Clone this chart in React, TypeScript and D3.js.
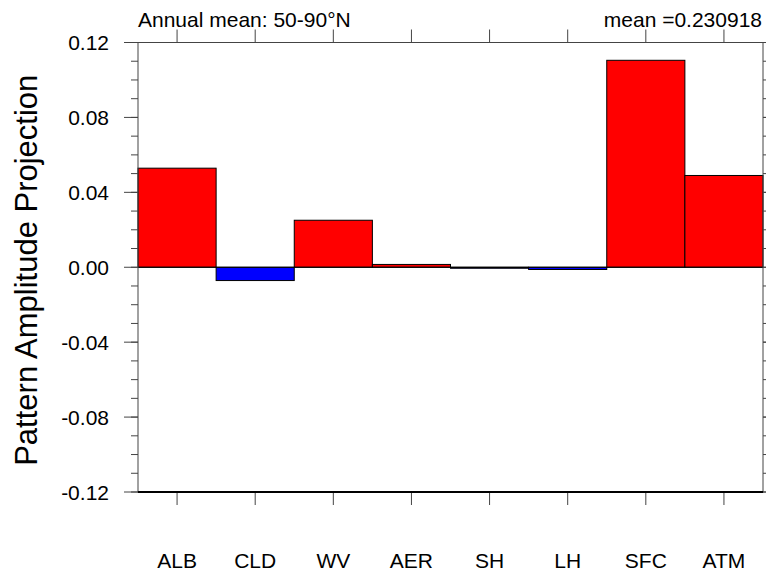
import React, { useEffect, useRef } from 'react';
import * as d3 from 'd3';

const categories = ['ALB', 'CLD', 'WV', 'AER', 'SH', 'LH', 'SFC', 'ATM'];
const values = [0.0529, -0.0071, 0.0251, 0.0015, -0.0005, -0.0012, 0.1105, 0.049];
const yTicks = [-0.12, -0.08, -0.04, 0, 0.04, 0.08, 0.12];
const titleLeft = 'Annual mean: 50-90°N';
const titleRight = 'mean =0.230918';
const yLabel = 'Pattern Amplitude Projection';

const W = 766;
const H = 575;
const margin = { top: 42.5, right: 3, bottom: 83, left: 138 };
const font = 'Liberation Sans, Arial, Helvetica, sans-serif';

export default function App() {
  const ref = useRef<SVGSVGElement>(null);

  useEffect(() => {
    const svg = d3.select(ref.current);
    svg.selectAll('*').remove();

    const x0 = margin.left, x1 = W - margin.right;
    const y0 = margin.top, y1 = H - margin.bottom;

    const x = d3.scaleBand().domain(categories).range([x0, x1]).padding(0);
    const y = d3.scaleLinear().domain([-0.12, 0.12]).range([y1, y0]);
    const minor = d3.range(-12, 13).map(i => i / 100);

    // bars
    svg.append('g')
      .selectAll('rect')
      .data(values)
      .join('rect')
      .attr('x', (d, i) => x(categories[i])!)
      .attr('width', x.bandwidth())
      .attr('y', d => y(Math.max(0, d)))
      .attr('height', d => Math.max(Math.abs(y(d) - y(0)), 1))
      .attr('fill', d => (d >= 0 ? '#ff0000' : '#0000ff'))
      .attr('stroke', '#000')
      .attr('stroke-width', 1);

    // zero line
    svg.append('line')
      .attr('x1', x0).attr('x2', x1)
      .attr('y1', y(0)).attr('y2', y(0))
      .attr('stroke', '#000').attr('stroke-width', 1);

    const tickCol = '#444';

    // left & right axis ticks
    [x0, x1].forEach((xx, side) => {
      const dir = side === 0 ? -1 : 1;
      const g = svg.append('g');
      g.selectAll('line.minor')
        .data(minor)
        .join('line')
        .attr('x1', xx).attr('x2', xx + dir * 7)
        .attr('y1', d => y(d)).attr('y2', d => y(d))
        .attr('stroke', tickCol).attr('stroke-width', 1);
      g.selectAll('line.major')
        .data(yTicks)
        .join('line')
        .attr('x1', xx).attr('x2', xx + dir * 14)
        .attr('y1', d => y(d)).attr('y2', d => y(d))
        .attr('stroke', tickCol).attr('stroke-width', 1);
    });

    // top & bottom ticks
    [y0, y1].forEach((yy, side) => {
      const dir = side === 0 ? -1 : 1;
      svg.append('g')
        .selectAll('line')
        .data(categories)
        .join('line')
        .attr('x1', d => x(d)! + x.bandwidth() / 2)
        .attr('x2', d => x(d)! + x.bandwidth() / 2)
        .attr('y1', yy).attr('y2', yy + dir * 13)
        .attr('stroke', tickCol).attr('stroke-width', 1);
    });

    // frame
    svg.append('rect')
      .attr('x', x0).attr('y', y0)
      .attr('width', x1 - x0).attr('height', y1 - y0)
      .attr('fill', 'none').attr('stroke', tickCol).attr('stroke-width', 1);
    svg.append('line')
      .attr('x1', x0).attr('x2', x1)
      .attr('y1', y1).attr('y2', y1)
      .attr('stroke', '#000').attr('stroke-width', 2);

    // y tick labels
    svg.append('g')
      .selectAll('text')
      .data(yTicks)
      .join('text')
      .attr('x', 109)
      .attr('y', d => y(d) + 7.5)
      .attr('text-anchor', 'end')
      .attr('font-family', font)
      .attr('font-size', 21)
      .text(d => d.toFixed(2));

    // x labels
    svg.append('g')
      .selectAll('text')
      .data(categories)
      .join('text')
      .attr('x', d => x(d)! + x.bandwidth() / 2)
      .attr('y', 568)
      .attr('text-anchor', 'middle')
      .attr('font-family', font)
      .attr('font-size', 21)
      .text(d => d);

    // titles
    svg.append('text')
      .attr('x', x0).attr('y', 27)
      .attr('font-family', font).attr('font-size', 21)
      .text(titleLeft);
    svg.append('text')
      .attr('x', 762).attr('y', 27)
      .attr('text-anchor', 'end')
      .attr('font-family', font).attr('font-size', 21)
      .text(titleRight);

    // y label
    svg.append('text')
      .attr('transform', `translate(37,${(y0 + y1) / 2 + 3}) rotate(-90)`)
      .attr('text-anchor', 'middle')
      .attr('font-family', font)
      .attr('font-size', 31)
      .text(yLabel);
  }, []);

  return (
    <svg
      ref={ref}
      width={W}
      height={H}
      style={{ position: 'absolute', left: 0, top: 0, background: '#fff' }}
    />
  );
}
